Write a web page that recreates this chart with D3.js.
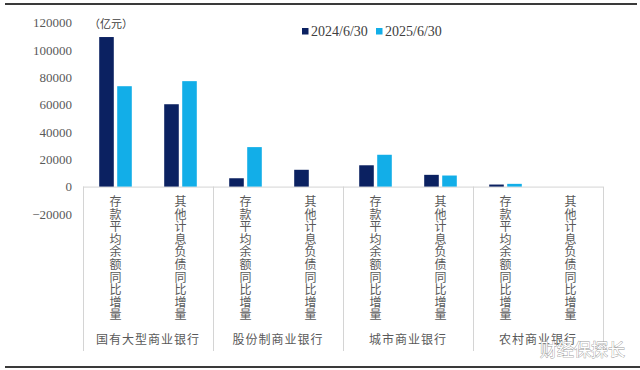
<!DOCTYPE html>
<html>
<head>
<meta charset="utf-8">
<script src="https://cdn.jsdelivr.net/npm/d3@7"></script>
<style>
  body { margin: 0; background: #fff; }
  svg { display: block; }
</style>
</head>
<body>
<div id="chart"></div>
<script>
// data (亿元)
var groups = ["国有大型商业银行", "股份制商业银行", "城市商业银行", "农村商业银行"];
var subCats = ["存款平均余额同比增量", "其他计息负债同比增量"];
var seriesNames = ["2024/6/30", "2025/6/30"];
var series2024 = [109500, 60300, 6100, 12300, 15600, 8600, 1500, 0];
var series2025 = [73500, 77200, 28900, 0, 23300, 8100, 2000, 0];
var yTicks = [-20000, 0, 20000, 40000, 60000, 80000, 100000, 120000];

var W = 640, H = 370;
var colors = ["#0b2161", "#12aee8"];
var serif = "Liberation Serif, serif";
var cjk = "Noto Sans CJK SC, sans-serif";

var svg = d3.select("#chart").append("svg")
  .attr("width", W).attr("height", H);

// rows: one per group/subcategory
var rows = [];
groups.forEach(function(g, gi) {
  subCats.forEach(function(s, si) {
    var i = gi * subCats.length + si;
    rows.push({ id: i, group: g, sub: s, values: [series2024[i], series2025[i]] });
  });
});

var plotLeft = 83, plotRight = 603;
var x0 = d3.scaleBand().domain(rows.map(function(d) { return d.id; }))
  .range([plotLeft, plotRight]).padding(0);
var x1 = d3.scaleBand().domain([0, 1])
  .range([0, x0.bandwidth()]).paddingInner(0.19).paddingOuter(0.9);
var gx = d3.scaleBand().domain(groups).range([plotLeft, plotRight]).padding(0);
var y = d3.scaleLinear().domain([-20000, 120000]).range([213.9, 22.7]);

// frame lines top / bottom
svg.append("line").attr("x1", 5).attr("x2", 637).attr("y1", 4).attr("y2", 4)
  .attr("stroke", "#3a3a3a").attr("stroke-width", 2);
svg.append("line").attr("x1", 5).attr("x2", 640).attr("y1", 367).attr("y2", 367)
  .attr("stroke", "#3a3a3a").attr("stroke-width", 2);

// y axis (labels only)
var yAxis = d3.axisLeft(y).tickValues(yTicks).tickSize(0).tickPadding(0)
  .tickFormat(d3.format("d"));
var ya = svg.append("g").attr("transform", "translate(72,0)").call(yAxis);
ya.select(".domain").remove();
ya.selectAll("text").attr("font-family", serif).attr("font-size", 13)
  .attr("fill", "#595959");

// unit label
svg.append("text").attr("x", 89).attr("y", 28)
  .attr("font-family", cjk).attr("font-size", 11).attr("fill", "#404040")
  .text("（亿元）");

// category box: baseline + group separators
var cat = svg.append("g").attr("stroke", "#d4d4d4").attr("stroke-width", 1);
cat.append("line").attr("x1", plotLeft).attr("x2", plotRight)
  .attr("y1", y(0) + 0.5).attr("y2", y(0) + 0.5);
var seps = groups.map(function(g) { return gx(g); }).concat([plotRight]);
cat.selectAll("line.sep").data(seps).enter().append("line").attr("class", "sep")
  .attr("x1", function(d) { return Math.round(d) + 0.5; })
  .attr("x2", function(d) { return Math.round(d) + 0.5; })
  .attr("y1", y(0)).attr("y2", 351);

// bars
var rowG = svg.selectAll("g.row").data(rows).enter().append("g")
  .attr("class", "row")
  .attr("transform", function(d) { return "translate(" + x0(d.id) + ",0)"; });

rowG.selectAll("rect").data(function(d) {
    return d.values.map(function(v, k) { return { k: k, v: v }; });
  }).enter().append("rect")
  .filter(function(d) { return d.v > 0; })
  .attr("x", function(d) { return x1(d.k); })
  .attr("width", x1.bandwidth())
  .attr("y", function(d) { return y(d.v); })
  .attr("height", function(d) { return y(0) - y(d.v); })
  .attr("fill", function(d) { return colors[d.k]; });

// vertical subcategory labels, one char per line
rowG.each(function(d) {
  var chars = d.sub.split("");
  d3.select(this).selectAll("text.ch").data(chars).enter().append("text")
    .attr("class", "ch")
    .attr("x", x0.bandwidth() / 2)
    .attr("y", function(c, i) { return 206 + i * 12.6; })
    .attr("text-anchor", "middle")
    .attr("font-family", cjk).attr("font-size", 12)
    .attr("fill", "#595959")
    .text(function(c) { return c; });
});

// group labels
svg.selectAll("text.grp").data(groups).enter().append("text")
  .attr("class", "grp")
  .attr("x", function(g) { return gx(g) + gx.bandwidth() / 2; })
  .attr("y", 344)
  .attr("text-anchor", "middle")
  .attr("font-family", cjk).attr("font-size", 12)
  .attr("letter-spacing", 1)
  .attr("fill", "#595959")
  .text(function(g) { return g; });

// legend
var legendX = [302, 376];
var lg = svg.selectAll("g.legend").data(seriesNames).enter().append("g")
  .attr("class", "legend")
  .attr("transform", function(d, i) { return "translate(" + legendX[i] + ",28)"; });
lg.append("rect").attr("width", 6.5).attr("height", 6.5)
  .attr("fill", function(d, i) { return colors[i]; });
lg.append("text").attr("x", 9).attr("y", 8)
  .attr("font-family", serif).attr("font-size", 14).attr("fill", "#404040")
  .text(function(d) { return d; });

// watermark
svg.append("text").attr("x", 540).attr("y", 356)
  .attr("font-family", cjk).attr("font-size", 17)
  .attr("fill", "#ffffff").attr("stroke", "#9a9a9a").attr("stroke-width", 0.8)
  .attr("paint-order", "stroke")
  .text("财经保探长");
</script>
</body>
</html>
